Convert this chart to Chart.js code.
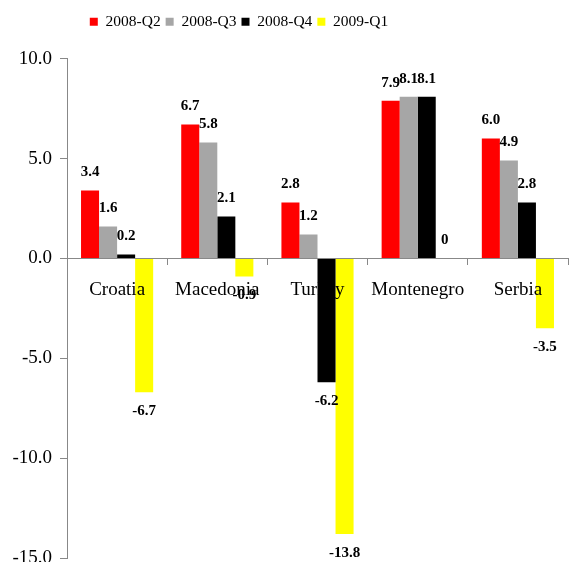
<!DOCTYPE html>
<html>
<head>
<meta charset="utf-8">
<script src="https://cdn.jsdelivr.net/npm/chart.js@4/dist/chart.umd.min.js"></script>
<style>
html,body{margin:0;padding:0;background:#fff;}
canvas{display:block;}
</style>
</head>
<body>
<canvas id="c" width="570" height="562"></canvas>
<script>
const categories = ["Croatia", "Macedonia", "Turkey", "Montenegro", "Serbia"];
const seriesNames = ["2008-Q2", "2008-Q3", "2008-Q4", "2009-Q1"];
const q2_2008 = [3.4, 6.7, 2.8, 7.9, 6.0];
const q3_2008 = [1.6, 5.8, 1.2, 8.1, 4.9];
const q4_2008 = [0.2, 2.1, -6.2, 8.1, 2.8];
const q1_2009 = [-6.7, -0.9, -13.8, 0, -3.5];
const yTicks = [10, 5, 0, -5, -10, -15];

const colors = ["#FF0000", "#A6A6A6", "#000000", "#FFFF00"];
const seriesValues = [q2_2008, q3_2008, q4_2008, q1_2009];
const FONT = "'Liberation Serif', 'Times New Roman', serif";

Chart.defaults.color = '#000';
Chart.defaults.font.family = FONT;

const labelPlugin = {
  id: 'valueLabels',
  afterDraw(chart) {
    const ctx = chart.ctx;
    ctx.save();
    ctx.font = "bold 15px " + FONT;
    ctx.fillStyle = '#000';
    ctx.textAlign = 'center';
    ctx.textBaseline = 'middle';
    chart.data.datasets.forEach((ds, di) => {
      const meta = chart.getDatasetMeta(di);
      meta.data.forEach((bar, i) => {
        const v = ds.data[i];
        const y = v >= 0 ? bar.y - 18 : bar.y + 19;
        const txt = v === 0 ? '0' : v.toFixed(1);
        ctx.fillText(txt, bar.x, y);
      });
    });
    ctx.restore();
  }
};

const legendShift = {
  id: 'legendShift',
  afterLayout(chart) {
    if (chart.legend) {
      chart.legend.left -= 45;
      chart.legend.right -= 45;
    }
  }
};

new Chart(document.getElementById('c'), {
  type: 'bar',
  data: {
    labels: categories,
    datasets: seriesNames.map((n, i) => ({
      label: n,
      data: seriesValues[i],
      backgroundColor: colors[i],
      borderWidth: 0,
      categoryPercentage: 0.72,
      barPercentage: 1.0
    }))
  },
  options: {
    responsive: false,
    animation: false,
    layout: { padding: { top: 9, right: 2, bottom: 4, left: 0 } },
    plugins: {
      legend: {
        position: 'top',
        align: 'center',
        labels: {
          boxWidth: 8,
          boxHeight: 8,
          padding: 5,
          color: '#000',
          font: { size: 15.5, family: FONT }
        }
      },
      title: {
        display: true,
        text: ' ',
        weight: 500,
        font: { size: 1 },
        padding: { top: 9, bottom: 9 }
      },
      tooltip: { enabled: false }
    },
    scales: {
      x: {
        position: { y: 0 },
        grid: {
          display: true,
          drawOnChartArea: false,
          drawTicks: true,
          tickLength: 6,
          color: '#888',
          offset: true
        },
        border: { display: true, color: '#888', width: 1 },
        ticks: {
          z: 1,
          font: { size: 19, family: FONT },
          color: '#000',
          padding: 14,
          maxRotation: 0,
          autoSkip: false
        },
        afterFit(scale) { scale.height = 0; }
      },
      y: {
        min: -15,
        max: 10,
        afterBuildTicks(scale) { scale.ticks = yTicks.map(v => ({ value: v })); },
        ticks: {
          font: { size: 19, family: FONT },
          color: '#000',
          padding: 8,
          callback: (v) => Number(v).toFixed(1)
        },
        grid: {
          display: true,
          drawOnChartArea: false,
          drawTicks: true,
          tickLength: 7,
          color: '#888'
        },
        border: { display: true, color: '#888', width: 1 },
        afterFit(scale) {
          scale.width = 67;
          scale.paddingBottom = 0;
          scale.paddingTop = 0;
        }
      }
    }
  },
  plugins: [labelPlugin, legendShift]
});
</script>
</body>
</html>
